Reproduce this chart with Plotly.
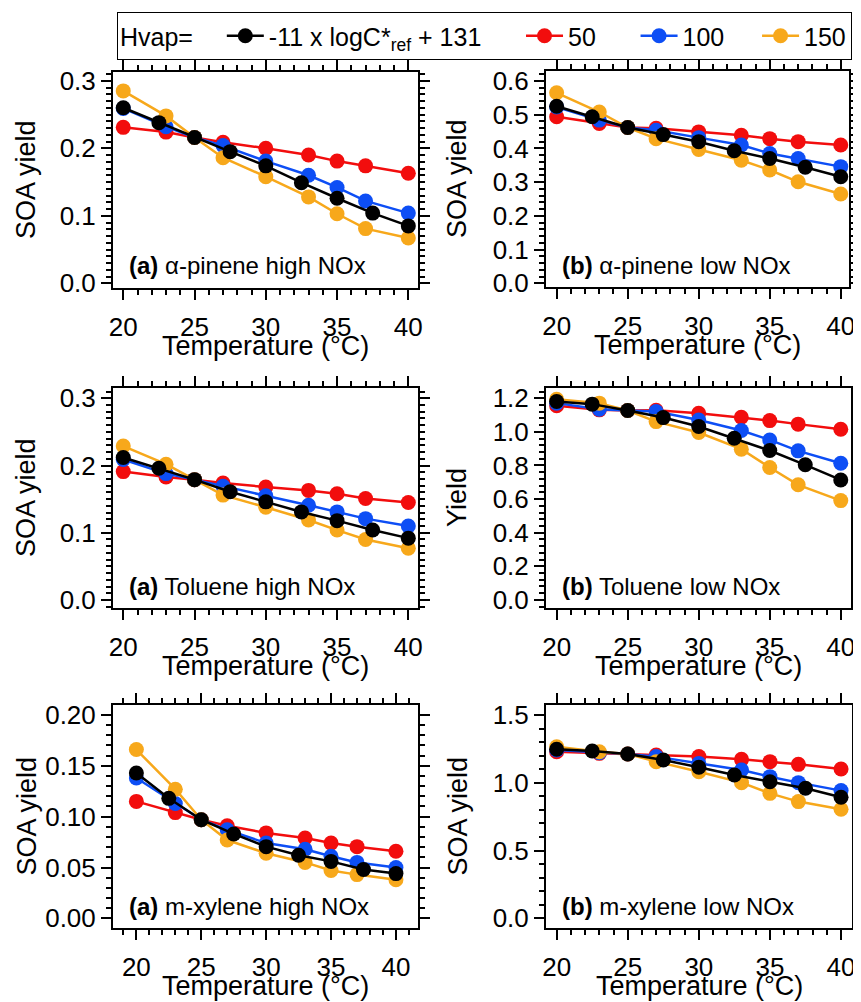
import plotly.graph_objects as go

W, H = 861, 1002
OFF = 8  # page body margin of the browser; coordinates below are page pixels

# ---------------- data ----------------
T_colored = [20, 23, 25, 27, 30, 33, 35, 37, 40]
T_black = [20, 22.5, 25, 27.5, 30, 32.5, 35, 37.5, 40]

# (a) alpha-pinene high NOx
apin_hi_black = [0.260, 0.238, 0.216, 0.195, 0.174, 0.149, 0.126, 0.104, 0.085]
apin_hi_50 = [0.231, 0.224, 0.216, 0.209, 0.200, 0.190, 0.181, 0.174, 0.163]
apin_hi_100 = [0.259, 0.232, 0.216, 0.204, 0.181, 0.160, 0.142, 0.122, 0.104]
apin_hi_150 = [0.285, 0.248, 0.216, 0.186, 0.158, 0.128, 0.103, 0.081, 0.067]

# (b) alpha-pinene low NOx
apin_lo_black = [0.525, 0.494, 0.462, 0.441, 0.420, 0.393, 0.370, 0.344, 0.316]
apin_lo_50 = [0.494, 0.474, 0.462, 0.460, 0.449, 0.439, 0.429, 0.420, 0.410]
apin_lo_100 = [0.523, 0.484, 0.462, 0.454, 0.432, 0.410, 0.385, 0.370, 0.346]
apin_lo_150 = [0.565, 0.508, 0.462, 0.429, 0.397, 0.365, 0.336, 0.301, 0.265]

# (a) toluene high NOx
tol_hi_black = [0.212, 0.196, 0.179, 0.161, 0.146, 0.131, 0.118, 0.104, 0.092]
tol_hi_50 = [0.191, 0.183, 0.179, 0.174, 0.168, 0.163, 0.158, 0.151, 0.145]
tol_hi_100 = [0.209, 0.188, 0.179, 0.169, 0.155, 0.141, 0.131, 0.121, 0.110]
tol_hi_150 = [0.229, 0.202, 0.179, 0.156, 0.138, 0.119, 0.104, 0.090, 0.077]

# (b) toluene low NOx
tol_lo_black = [1.181, 1.165, 1.127, 1.085, 1.032, 0.962, 0.889, 0.804, 0.714]
tol_lo_50 = [1.155, 1.131, 1.127, 1.128, 1.111, 1.087, 1.067, 1.046, 1.016]
tol_lo_100 = [1.171, 1.135, 1.127, 1.121, 1.071, 1.008, 0.952, 0.887, 0.813]
tol_lo_150 = [1.194, 1.171, 1.127, 1.061, 0.996, 0.897, 0.788, 0.685, 0.591]

# (a) m-xylene high NOx
xyl_hi_black = [0.143, 0.118, 0.097, 0.083, 0.0705, 0.062, 0.056, 0.048, 0.044]
xyl_hi_50 = [0.115, 0.104, 0.097, 0.091, 0.084, 0.079, 0.074, 0.0705, 0.066]
xyl_hi_100 = [0.138, 0.113, 0.097, 0.087, 0.074, 0.068, 0.061, 0.055, 0.050]
xyl_hi_150 = [0.166, 0.127, 0.097, 0.077, 0.064, 0.055, 0.047, 0.043, 0.038]

# (b) m-xylene low NOx
xyl_lo_black = [1.247, 1.234, 1.212, 1.168, 1.114, 1.057, 1.008, 0.959, 0.893]
xyl_lo_50 = [1.229, 1.217, 1.212, 1.205, 1.193, 1.173, 1.156, 1.136, 1.102]
xyl_lo_100 = [1.242, 1.222, 1.212, 1.193, 1.143, 1.094, 1.045, 1.001, 0.942]
xyl_lo_150 = [1.266, 1.229, 1.212, 1.156, 1.082, 1.001, 0.922, 0.861, 0.804]

NB = "\u00a0"
legend_names = ["-11 x logC*<sub>ref</sub> + 131" + NB * 5, "50" + NB * 5,
                "100" + NB * 4, "150"]
colors = ["#000000", "#f20d0d", "#0d4ef5", "#f7a81b"]

panels = [
    dict(label="<b>(a)</b> α-pinene high NOx", ytitle="SOA yield",
         data=[apin_hi_black, apin_hi_50, apin_hi_100, apin_hi_150],
         px=(113, 418), py=(72, 288), xr=[19.28, 40.68], yr=[-0.007, 0.313],
         ydt=0.1, ymin=0.01, yfmt=".1f"),
    dict(label="<b>(b)</b> α-pinene low NOx", ytitle="SOA yield",
         data=[apin_lo_black, apin_lo_50, apin_lo_100, apin_lo_150],
         px=(546, 849), py=(71, 287), xr=[19.25, 40.58], yr=[-0.011, 0.6296],
         ydt=0.1, ymin=0.02, yfmt=".1f"),
    dict(label="<b>(a)</b> Toluene high NOx", ytitle="SOA yield",
         data=[tol_hi_black, tol_hi_50, tol_hi_100, tol_hi_150],
         px=(113, 418), py=(388, 608), xr=[19.28, 40.68], yr=[-0.0119, 0.3153],
         ydt=0.1, ymin=0.01, yfmt=".1f"),
    dict(label="<b>(b)</b> Toluene low NOx", ytitle="Yield",
         data=[tol_lo_black, tol_lo_50, tol_lo_100, tol_lo_150],
         px=(546, 851), py=(388, 608), xr=[19.25, 40.72], yr=[-0.048, 1.261],
         ydt=0.2, ymin=0.04, yfmt=".1f"),
    dict(label="<b>(a)</b> m-xylene high NOx", ytitle="SOA yield",
         data=[xyl_hi_black, xyl_hi_50, xyl_hi_100, xyl_hi_150],
         px=(113, 418), py=(705, 928), xr=[18.2, 41.7], yr=[-0.0095, 0.2098],
         ydt=0.05, ymin=0.01, yfmt=".2f"),
    dict(label="<b>(b)</b> m-xylene low NOx", ytitle="SOA yield",
         data=[xyl_lo_black, xyl_lo_50, xyl_lo_100, xyl_lo_150],
         px=(546, 852), py=(705, 928), xr=[19.25, 40.77], yr=[-0.072, 1.574],
         ydt=0.5, ymin=0.1, yfmt=".1f"),
]


def fx(px):
    return (px - OFF) / W


def fy(py):
    return 1 - (py - OFF) / H


FONT = "Arial, Liberation Sans, sans-serif"
TICKFS = 26
TITLEFS = 27
fig = go.Figure()
layout = {}
annotations = []
NP = len(panels)

for i, p in enumerate(panels):
    n = "" if i == 0 else str(i + 1)
    xa, ya = "x" + n, "y" + n
    for k in [1, 2, 3, 0]:
        xs = T_black if k == 0 else T_colored
        fig.add_trace(go.Scatter(
            x=xs, y=p["data"][k], mode="lines+markers",
            line=dict(color=colors[k], width=2.5),
            marker=dict(color=colors[k], size=15, symbol="circle"),
            name=legend_names[k], showlegend=(i == 0), legendrank=k + 1,
            xaxis=xa, yaxis=ya))
    xd = [fx(p["px"][0]), fx(p["px"][1])]
    yd = [fy(p["py"][1]), fy(p["py"][0])]
    tickstyle = dict(ticks="outside", ticklen=10, tickwidth=2, tickcolor="black")
    common = dict(showline=True, linewidth=2, linecolor="black", mirror="ticks",
                  showgrid=False, zeroline=False, fixedrange=True,
                  tickfont=dict(family=FONT, size=TICKFS, color="black"), **tickstyle)
    xminor = dict(ticks="outside", ticklen=5, tickwidth=2, tickcolor="black", dtick=1, tick0=20)
    yminor = dict(ticks="outside", ticklen=5, tickwidth=2, tickcolor="black",
                  dtick=p["ymin"], tick0=0)
    layout["xaxis" + n] = dict(domain=xd, range=p["xr"], anchor=ya, tickmode="array",
                               tickvals=[20, 25, 30, 35, 40], ticklabelstandoff=5,
                               minor=xminor, **common)
    layout["yaxis" + n] = dict(domain=yd, range=p["yr"], anchor=xa, dtick=p["ydt"], tick0=0,
                               tickformat=p["yfmt"], minor=yminor, **common)
    # mirrored (top / right) tick axes so minor ticks also appear there
    nx = str(NP + i + 1)
    layout["xaxis" + nx] = dict(overlaying=xa, anchor=ya, side="top", range=p["xr"],
                                tickmode="array", tickvals=[20, 25, 30, 35, 40],
                                showticklabels=False, showline=False, showgrid=False,
                                zeroline=False, fixedrange=True, minor=xminor, **tickstyle)
    layout["yaxis" + nx] = dict(overlaying=ya, anchor=xa, side="right", range=p["yr"],
                                dtick=p["ydt"], tick0=0, showticklabels=False,
                                showline=False, showgrid=False, zeroline=False,
                                fixedrange=True, minor=yminor, **tickstyle)
    # panel label
    annotations.append(dict(text=p["label"], xref="paper", yref="paper",
                            x=fx(p["px"][0] + 14), y=fy(p["py"][1] - 22),
                            xanchor="left", yanchor="middle", showarrow=False,
                            font=dict(family=FONT, size=24, color="black")))
    # y title
    tx = 26 if p["px"][0] < 300 else 457
    annotations.append(dict(text=p["ytitle"], xref="paper", yref="paper",
                            x=fx(tx), y=fy((p["py"][0] + p["py"][1]) / 2),
                            textangle=-90, xanchor="center", yanchor="middle",
                            showarrow=False,
                            font=dict(family=FONT, size=TITLEFS, color="black")))
    # x title
    annotations.append(dict(text="Temperature (°C)", xref="paper", yref="paper",
                            x=fx((p["px"][0] + p["px"][1]) / 2),
                            y=fy(p["py"][1] + 58),
                            xanchor="center", yanchor="middle", showarrow=False,
                            font=dict(family=FONT, size=TITLEFS, color="black")))

fig.update_layout(
    width=W, height=H, margin=dict(l=0, r=0, t=0, b=0, autoexpand=False),
    paper_bgcolor="white", plot_bgcolor="white",
    font=dict(family=FONT, color="black"),
    annotations=annotations,
    legend=dict(orientation="h", x=fx(117), y=fy(12), xanchor="left", yanchor="top",
                bordercolor="black", borderwidth=1, bgcolor="white",
                font=dict(family=FONT, size=25, color="black"),
                title=dict(text="Hvap=" + NB * 3, side="left",
                           font=dict(family=FONT, size=25, color="black")),
                traceorder="normal", itemwidth=37),
    **layout,
)

fig.write_html("out.html")
